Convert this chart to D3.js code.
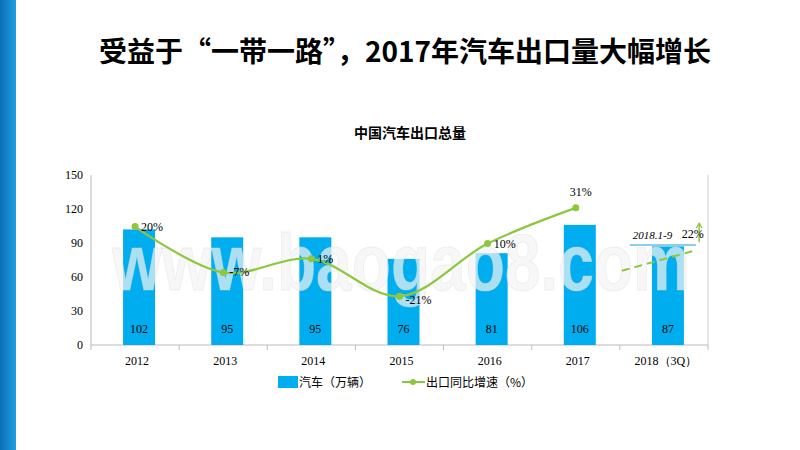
<!DOCTYPE html>
<html><head><meta charset="utf-8">
<script src="https://cdn.jsdelivr.net/npm/d3@7"></script>
<style>body{margin:0;background:#fff}svg{display:block}</style></head>
<body><svg id="c" width="800" height="450"></svg>
<script>
const categories=["2012","2013","2014","2015","2016","2017","2018（3Q）"];
const exportsVol=[102,95,95,76,81,106,87];
const growth=[20,-7,1,-21,10,31];
const growthLabels=["20%","-7%","1%","-21%","10%","31%"];
const yTicks=[0,30,60,90,120,150];
const est2018={from:-6,to:6,label:"22%",period:"2018.1-9",arrowTo:22};

const svg=d3.select("#c");
const defs=svg.append("defs");
const g1=defs.append("linearGradient").attr("id","bg").attr("x1",0).attr("x2",1);
g1.append("stop").attr("offset",0).attr("stop-color","#0a6fb8");
g1.append("stop").attr("offset",1).attr("stop-color","#1fa0e0");
svg.append("rect").attr("x",0).attr("y",0).attr("width",16).attr("height",450).attr("fill","url(#bg)");

svg.append("text").attr("x",405).attr("y",62).attr("text-anchor","middle")
 .attr("font-family","'Noto Sans CJK SC','Liberation Serif',serif").attr("font-size",28).attr("font-weight","bold")
 .text("受益于“一带一路”，2017年汽车出口量大幅增长");
svg.append("text").attr("x",410).attr("y",138).attr("text-anchor","middle")
 .attr("font-family","'Noto Sans CJK SC'").attr("font-size",14).attr("font-weight","bold").text("中国汽车出口总量");

const L=91,R=708,T=175,B=345;
const x=d3.scaleBand().domain(categories).range([L,R]);
const y=d3.scaleLinear().domain([0,150]).range([B,T]);
const yp=d3.scaleLinear().domain([-49.67,50.33]).range([B,T]);
const serif="'Liberation Serif','Times New Roman',serif";

const ax=svg.append("g").attr("font-family",serif).attr("font-size",12);
ax.append("line").attr("x1",L).attr("x2",L).attr("y1",T).attr("y2",B).attr("stroke","#bbb");
ax.append("line").attr("x1",L).attr("x2",R).attr("y1",B).attr("y2",B).attr("stroke","#bbb");
ax.append("line").attr("x1",R).attr("x2",R).attr("y1",T).attr("y2",B).attr("stroke","#ccc");
categories.forEach((c,i)=>{ax.append("line").attr("x1",x(c)).attr("x2",x(c)).attr("y1",B).attr("y2",B+5).attr("stroke","#bbb");});
ax.append("line").attr("x1",R).attr("x2",R).attr("y1",B).attr("y2",B+5).attr("stroke","#bbb");
yTicks.forEach(t=>ax.append("text").attr("x",L-8).attr("y",y(t)+4).attr("text-anchor","end").text(t));
categories.forEach(c=>ax.append("text").attr("x",x(c)+x.bandwidth()/2+2).attr("y",B+20).attr("text-anchor","middle").text(c));

const bw=32;
svg.selectAll(".bar").data(exportsVol).enter().append("rect")
 .attr("x",(d,i)=>x(categories[i])+x.bandwidth()/2-bw/2+4).attr("width",bw)
 .attr("y",d=>y(d)).attr("height",d=>B-y(d)).attr("fill","#00aeef");
svg.selectAll(".bl").data(exportsVol).enter().append("text")
 .attr("x",(d,i)=>x(categories[i])+x.bandwidth()/2+4).attr("y",B-12).attr("text-anchor","middle")
 .attr("font-family",serif).attr("font-size",12).text(d=>d);

// watermark
svg.append("text").attr("x",112).attr("y",290).attr("textLength",578).attr("lengthAdjust","spacingAndGlyphs")
 .attr("font-family","'Liberation Sans',Arial,sans-serif").attr("font-weight","bold")
 .attr("font-size",80).attr("fill","#f4f4f4").attr("fill-opacity",0.7).attr("stroke","#ddd").attr("stroke-opacity",0.4).text("www.baogao8.com");

const cx=i=>x(categories[i])+x.bandwidth()/2;
const green="#8dc63f";
const line=d3.line().x((d,i)=>cx(i)).y(d=>yp(d)).curve(d3.curveCatmullRom.alpha(0.5));
svg.append("path").attr("d",line(growth)).attr("fill","none").attr("stroke",green).attr("stroke-width",2.2);
svg.selectAll(".pt").data(growth).enter().append("circle").attr("cx",(d,i)=>cx(i)).attr("cy",d=>yp(d)).attr("r",3.5).attr("fill",green);
svg.selectAll(".pl").data(growth).enter().append("text")
 .attr("x",(d,i)=>cx(i)+ (i==5?-6:6)).attr("y",(d,i)=>yp(d)+(i==5?-12:(i==3?8:4)))
 .attr("font-family",serif).attr("font-size",12).text((d,i)=>growthLabels[i]);

// 2018 estimate
const x0=x(categories[6]),x1=x0+x.bandwidth()*0.9;
svg.append("line").attr("x1",x0+2).attr("x2",x1-4).attr("y1",yp(est2018.from)).attr("y2",yp(est2018.to))
 .attr("stroke",green).attr("stroke-width",2).attr("stroke-dasharray","8,5");
svg.append("line").attr("x1",x1).attr("x2",x1).attr("y1",yp(est2018.to)-8).attr("y2",yp(est2018.arrowTo)).attr("stroke",green).attr("stroke-width",1.5);
svg.append("path").attr("d",`M${x1-3},${yp(est2018.arrowTo)+5}L${x1},${yp(est2018.arrowTo)}L${x1+3},${yp(est2018.arrowTo)+5}`).attr("fill","none").attr("stroke",green).attr("stroke-width",1.2);
svg.append("line").attr("x1",x0+10).attr("x2",x0+76).attr("y1",245).attr("y2",245).attr("stroke","#1a9bd7").attr("stroke-width",1.2);
svg.append("text").attr("x",x0+13).attr("y",239).attr("font-family",serif).attr("font-style","italic").attr("font-size",11).text(est2018.period);
svg.append("text").attr("x",x0+62).attr("y",238).attr("font-family",serif).attr("font-size",12).text(est2018.label);

// legend
const lg=svg.append("g").attr("font-family","'Noto Sans CJK SC'").attr("font-size",12);
lg.append("rect").attr("x",278).attr("y",376).attr("width",20).attr("height",12).attr("fill","#00aeef");
lg.append("text").attr("x",299).attr("y",387).text("汽车（万辆）");
lg.append("line").attr("x1",402).attr("x2",425).attr("y1",382).attr("y2",382).attr("stroke",green).attr("stroke-width",2);
lg.append("circle").attr("cx",413).attr("cy",382).attr("r",3).attr("fill",green);
lg.append("text").attr("x",426).attr("y",387).text("出口同比增速（%）");
</script></body></html>
